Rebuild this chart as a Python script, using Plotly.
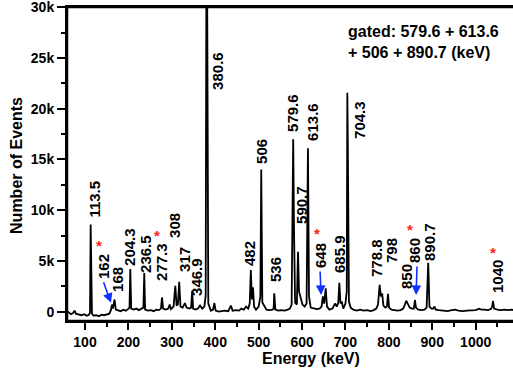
import plotly.graph_objects as go

# ---- spectrum (energy in keV, counts) ----
energy = [58.5, 63, 68, 72, 76, 79, 85, 92, 98, 104, 109, 111.5, 113, 114.5, 116, 120, 126, 132, 138, 144,
          150, 156, 160, 162, 164.5, 168, 171, 176, 182, 188, 194, 199, 202.5, 204.3, 206.5, 212, 218, 224,
          230, 234.5, 236.5, 238.5, 245, 252, 258, 264, 270, 275, 277.3, 280, 286, 292, 295, 298, 304, 308,
          311, 314, 317, 320, 325, 330, 334, 340, 344.5, 346.9, 349, 355, 360, 365, 370, 375, 378, 379.5,
          381.5, 382.5, 384, 390, 395, 398, 401, 408, 415, 422, 430, 436, 440, 448, 455, 460, 466, 471, 476,
          479.5, 482, 484.5, 487, 489.5, 494, 500, 504, 506, 508.5, 512, 518, 525, 532, 534.5, 536, 538.5,
          545, 552, 560, 567, 572, 576, 579.6, 581.5, 584, 588, 590.7, 593, 597, 601, 606, 610.5, 613.6, 616,
          620, 627, 634, 640, 645, 648, 651, 654.5, 657.5, 663, 670, 676, 680, 683.5, 685.9, 688.5, 691.5,
          695, 700, 703, 704.3, 705.5, 708, 712, 718, 726, 734, 742, 750, 758, 765, 771, 775, 778.8, 781.5,
          784.5, 787.5, 792, 795.5, 798, 800.5, 806, 813, 820, 827, 833, 837, 840, 843.5, 848, 853, 857.5,
          860, 862.5, 868, 875, 882, 887, 890.7, 893.5, 898, 902, 905, 908, 915, 925, 935, 945, 953, 960,
          970, 980, 990, 1000, 1008, 1013, 1020, 1028, 1035, 1038, 1040, 1042.5, 1050, 1058, 1066, 1074,
          1082, 1087]
counts = [50, -100, -250, -150, 100, -200, -300, -350, -250, -400, -300, -100, 8600, 5200, -200, -400, -350,
          -450, -300, -350, -250, -200, 200, 700, 300, 1200, 200, 100, 50, 200, 100, 250, 400, 4200, 300, 200,
          300, 150, 250, 400, 3800, 200, 100, 150, 50, 200, 150, 300, 1400, 300, 200, 300, 700, 250, 500,
          2550, 600, 700, 2950, 500, 400, 850, 400, 300, 400, 2050, 300, 200, 300, 600, 300, 500, 1600, 31000,
          31000, 17000, 800, 100, 200, 850, 100, 0, 50, 100, 50, 600, 100, 150, 100, 300, 200, 500, 300,
          800, 4100, 1200, 2400, 500, 200, 500, 1500, 14000, 900, 600, 200, 150, 200, 300, 1800, 200,
          100, 150, 100, 200, 300, 700, 17000, 8000, 900, 700, 5900, 2000, 1200, 700, 500, 800, 16100, 1500,
          400, 300, 250, 300, 500, 1500, 800, 2300, 500, 200, 300, 800, 500, 900, 2850, 800, 1000,
          300, 800, 2000, 21570, 16400, 1000, 400, 200, 100, 200, 100, 150, 50, 150, 300, 700, 2650, 1500,
          1800, 600, 400, 500, 1750, 400, 200, 150, 100, 150, 300, 700, 1080, 800, 400, 300, 300,
          1150, 400, 200, 150, 200, 400, 4830, 500, 300, 300, 500, 200, 150, 100, 50, 150, 200, 100,
          50, 100, 100, 150, 300, 200, 200, 150, 250, 500, 1050, 300, 200, 150, 200, 150,
          200, 150]

# ---- peak labels (text, centre position in energy / counts) ----
label_text = ["113.5", "162", "168", "204.3", "236.5", "277.3", "308", "317", "346.9", "380.6",
              "482", "506", "536", "579.6", "590.7", "613.6", "648", "685.9", "704.3", "778.8",
              "798", "850", "860", "890.7", "1040"]
label_x = [122.3, 143.8, 176, 203.7, 240.5, 277.4, 307.4, 330.4, 358, 406.5,
           480.2, 507.8, 540.1, 579.3, 600, 625.3, 643.8, 687.6, 733.6, 772.8,
           807.4, 841.9, 860.4, 894.9, 1051.6]
label_y = [11115, 4408, 3126, 6381, 5690, 4901, 8452, 5099, 3422, 23738,
           5690, 15749, 4112, 19596, 10523, 18708, 5493, 5690, 18905, 5296,
           5986, 3422, 5986, 6874, 3422]

# ---- red asterisks ----
star_x = [132.3, 265.9, 634.6, 848.8, 1040]
star_y = [6474, 7460, 7657, 8057, 5789]

# ---- blue arrows (head and tail) ----
arrow_head_x = [159.9, 643.8, 862.7]
arrow_head_y = [867, 1647, 1647]
arrow_tail_x = [141.5, 641.5, 865]
arrow_tail_y = [3037, 4112, 4605]

# ---- axis ticks ----
y_tickvals = [0, 5000, 10000, 15000, 20000, 25000, 30000]
y_ticktext = ["0", "5k", "10k", "15k", "20k", "25k", "30k"]

gate_text = "gated: 579.6 + 613.6<br>+ 506 + 890.7 (keV)"
x_title = "Energy (keV)"
y_title = "Number of Events"

FONT = "Liberation Sans, Arial, sans-serif"

fig = go.Figure()
fig.add_trace(go.Scatter(x=energy, y=counts, mode="lines",
                         line=dict(color="black", width=1.8), hoverinfo="skip",
                         showlegend=False))

annotations = []
for t, x, y in zip(label_text, label_x, label_y):
    annotations.append(dict(x=x, y=y, xref="x", yref="y", text=t, textangle=-90,
                            showarrow=False, xanchor="center", yanchor="middle",
                            font=dict(family=FONT, size=15, color="black", weight="bold")))
for x, y in zip(star_x, star_y):
    annotations.append(dict(x=x, y=y, xref="x", yref="y", text="*", showarrow=False,
                            xanchor="center", yanchor="middle",
                            font=dict(family=FONT, size=15, color="#ff2020", weight="bold")))
for hx, hy, tx, ty in zip(arrow_head_x, arrow_head_y, arrow_tail_x, arrow_tail_y):
    annotations.append(dict(x=hx, y=hy, ax=tx, ay=ty, xref="x", yref="y", axref="x", ayref="y",
                            text="", showarrow=True, arrowhead=2, arrowsize=1.2, arrowwidth=1.6,
                            arrowcolor="#1030ff"))
annotations.append(dict(x=0.626, y=0.955, xref="paper", yref="paper", text=gate_text,
                        showarrow=False, xanchor="left", yanchor="top", align="left",
                        font=dict(family=FONT, size=16, color="black", weight="bold")))
annotations.append(dict(x=0.547, y=-0.118, xref="paper", yref="paper", text=x_title,
                        showarrow=False, xanchor="center", yanchor="middle",
                        font=dict(family=FONT, size=16, color="black", weight="bold")))
annotations.append(dict(x=-0.112, y=0.494, xref="paper", yref="paper", text=y_title,
                        textangle=-90, showarrow=False, xanchor="center", yanchor="middle",
                        font=dict(family=FONT, size=16, color="black", weight="bold")))

fig.update_layout(
    width=513, height=370,
    margin=dict(l=67, r=0, t=7, b=49, autoexpand=False),
    paper_bgcolor="white", plot_bgcolor="white",
    showlegend=False,
    annotations=annotations,
    shapes=[dict(type="rect", xref="paper", yref="paper", x0=0, x1=1.02, y0=0, y1=1,
                 line=dict(color="black", width=2.5), fillcolor="rgba(0,0,0,0)", layer="above")],
    xaxis=dict(range=[58.5, 1086], tick0=0, dtick=100, showgrid=False, zeroline=False,
               automargin=False, mirror=True,
               showline=True, linecolor="black", linewidth=2,
               ticks="outside", ticklen=7, tickwidth=2, tickcolor="black",
               minor=dict(ticks="outside", ticklen=4, tickwidth=2, tickcolor="black", dtick=50, tick0=0),
               tickfont=dict(family=FONT, size=14, color="black", weight="bold")),
    yaxis=dict(range=[-920, 30030], tickvals=y_tickvals, ticktext=y_ticktext,
               showgrid=False, zeroline=False, automargin=False, ticklabeloverflow="allow",
               showline=True, linecolor="black", linewidth=2,
               ticks="outside", ticklen=8, tickwidth=2, tickcolor="black",
               minor=dict(ticks="outside", ticklen=4, tickwidth=2, tickcolor="black", dtick=2500, tick0=0),
               tickfont=dict(family=FONT, size=14, color="black", weight="bold")),
)

fig.write_html("out.html", config={"displayModeBar": False},
               post_script="document.body.style.margin='0';document.body.style.overflow='hidden';")
